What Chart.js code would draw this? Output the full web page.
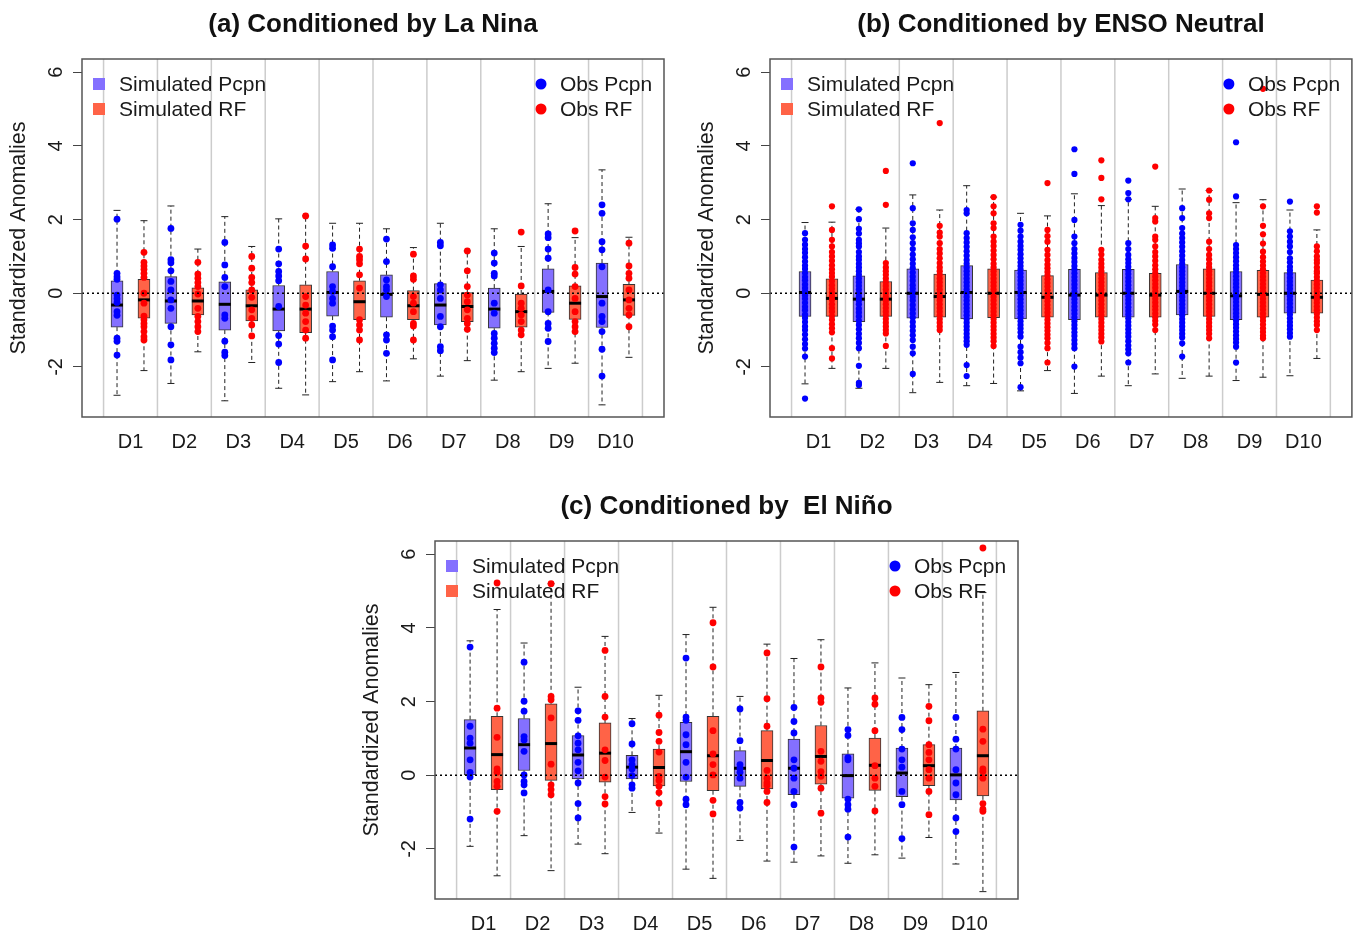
<!DOCTYPE html>
<html>
<head>
<meta charset="utf-8">
<script src="https://cdn.jsdelivr.net/npm/chart.js@4.4.1/dist/chart.umd.min.js"></script>
<style>
  html, body { margin: 0; background: #fff; overflow: hidden; }
  .panel { position: absolute; }
</style>
</head>
<body>
<div class="panel" style="left:0;top:0"><canvas id="chartA" width="680" height="470"></canvas></div>
<div class="panel" style="left:688px;top:0"><canvas id="chartB" width="667" height="470"></canvas></div>
<div class="panel" style="left:353px;top:482px"><canvas id="chartC" width="680" height="470"></canvas></div>
<script>
const FONT = "'Liberation Sans', Arial, Helvetica, sans-serif";
const deciles = ['D1', 'D2', 'D3', 'D4', 'D5', 'D6', 'D7', 'D8', 'D9', 'D10'];
const yTicks = [-2, 0, 2, 4, 6];
const BLUE_BOX = '#8470FF', RED_BOX = '#FF6347', BLUE_PT = '#0000FF', RED_PT = '#FF0000';

// box rows: [lower whisker, q1, median, q3, upper whisker]
// (a) La Nina
const pcpnBoxA = [
  [-2.77, -0.92, -0.32, 0.34, 2.25], [-2.45, -0.82, -0.21, 0.45, 2.37], [-2.92, -1.00, -0.30, 0.31, 2.08],
  [-2.58, -1.02, -0.43, 0.21, 2.02], [-2.40, -0.62, 0.02, 0.59, 1.90], [-2.38, -0.65, -0.03, 0.50, 1.75],
  [-2.25, -0.86, -0.32, 0.26, 1.90], [-2.36, -0.95, -0.43, 0.14, 1.75], [-2.04, -0.52, 0.05, 0.66, 2.43],
  [-3.03, -0.93, -0.09, 0.82, 3.35]
];
const rfBoxA = [
  [-2.10, -0.68, -0.18, 0.38, 1.97], [-1.59, -0.59, -0.21, 0.15, 1.20], [-1.88, -0.75, -0.34, 0.09, 1.27],
  [-2.76, -1.07, -0.43, 0.23, 2.10], [-2.13, -0.72, -0.23, 0.34, 1.90], [-1.78, -0.72, -0.34, 0.07, 1.24],
  [-1.83, -0.77, -0.36, 0.02, 1.15], [-2.13, -0.92, -0.50, -0.02, 1.27], [-1.90, -0.71, -0.27, 0.20, 1.51],
  [-1.74, -0.60, -0.18, 0.24, 1.52]
];
const obsPcpnA = [
  [2.01, 0.54, 0.45, 0.38, -0.05, -0.15, -0.25, -0.5, -0.6, -1.22, -1.3, -1.68],
  [1.76, 0.91, 0.83, 0.61, 0.32, 0.09, -0.18, -0.41, -0.91, -1.40, -1.81],
  [1.38, 0.77, 0.43, 0.18, -0.59, -0.68, -1.30, -1.60, -1.69],
  [1.20, 0.80, 0.59, 0.47, 0.34, -0.36, -1.15, -1.38, -1.88],
  [1.31, 1.22, 0.72, 0.18, 0.05, -0.14, -0.27, -0.89, -1.0, -1.18, -1.81],
  [1.47, 0.86, 0.36, 0.18, 0.09, -0.09, -1.13, -1.27, -1.63],
  [1.38, 1.29, 0.23, 0.09, -0.14, -0.63, -0.91, -1.45, -1.56],
  [1.09, 0.82, 0.54, 0.47, -0.27, -0.54, -1.09, -1.22, -1.36, -1.49, -1.61],
  [1.61, 1.51, 1.20, 0.95, 0.09, -0.50, -0.82, -0.95, -1.31],
  [2.40, 2.17, 1.40, 1.18, 0.72, -0.27, -0.63, -0.77, -1.04, -1.52, -2.25]
];
const obsRfA = [
  [1.11, 0.84, 0.74, 0.65, 0.54, 0.43, 0.0, -0.27, -0.62, -0.72, -0.82, -0.91, -1.04, -1.18, -1.27],
  [0.84, 0.52, 0.41, 0.29, 0.18, -0.02, -0.41, -0.63, -0.77, -0.91, -1.04],
  [1.0, 0.68, 0.43, 0.29, 0.09, -0.11, -0.45, -0.68, -0.86, -1.16],
  [2.10, 1.28, 0.93, -0.09, -0.32, -0.54, -0.77, -1.0, -1.22],
  [1.20, 1.0, 0.91, 0.80, 0.50, 0.14, -0.72, -0.86, -1.0, -1.27],
  [1.06, 0.47, 0.38, -0.09, -0.27, -0.50, -0.82, -0.89, -1.27],
  [1.15, 0.61, 0.18, -0.05, -0.23, -0.45, -0.68, -0.82, -0.98],
  [1.66, 0.20, -0.27, -0.41, -0.59, -0.77, -1.0, -1.13],
  [1.69, 0.70, 0.52, 0.18, -0.14, -0.50, -0.77, -0.91, -1.04],
  [1.36, 0.74, 0.54, 0.41, 0.09, -0.18, -0.41, -0.59, -0.91]
];

// (b) ENSO Neutral
const pcpnBoxB = [
  [-2.46, -0.63, 0.02, 0.59, 1.92], [-2.58, -0.77, -0.16, 0.47, 2.28], [-2.70, -0.68, 0.00, 0.66, 2.67],
  [-2.51, -0.70, 0.02, 0.75, 2.92], [-2.65, -0.70, 0.02, 0.63, 2.17], [-2.72, -0.72, -0.05, 0.65, 2.70],
  [-2.51, -0.65, 0.00, 0.65, 2.55], [-2.31, -0.59, 0.05, 0.78, 2.83], [-2.37, -0.72, -0.07, 0.59, 2.46],
  [-2.24, -0.54, 0.00, 0.56, 2.26]
];
const rfBoxB = [
  [-2.04, -0.63, -0.14, 0.39, 1.93], [-2.04, -0.63, -0.16, 0.32, 1.77], [-2.42, -0.65, -0.09, 0.52, 2.26],
  [-2.45, -0.66, 0.00, 0.66, 2.61], [-2.10, -0.65, -0.11, 0.48, 2.10], [-2.25, -0.65, -0.05, 0.56, 2.38],
  [-2.19, -0.65, -0.05, 0.54, 2.36], [-2.25, -0.63, 0.00, 0.66, 2.79], [-2.28, -0.65, -0.03, 0.62, 2.54],
  [-1.77, -0.54, -0.11, 0.36, 1.72]
];
const obsPcpnB = [
  [1.63, 1.45, 1.32, 1.2, 1.1, 0.98, 0.86, 0.75, 0.66, 0.55, 0.44, 0.35, 0.24, 0.14, 0.05, -0.06, -0.15, -0.26, -0.37, -0.46, -0.58, -0.67, -0.78, -0.9, -1.0, -1.12, -1.25, -1.38, -1.5, -1.72, -2.86],
  [2.28, 2.01, 1.75, 1.62, 1.45, 1.36, 1.27, 1.12, 1.0, 0.91, 0.8, 0.7, 0.6, 0.5, 0.4, 0.3, 0.2, 0.1, 0.0, -0.1, -0.2, -0.3, -0.42, -0.52, -0.63, -0.75, -0.86, -0.98, -1.1, -1.22, -1.35, -1.49, -1.97, -2.43, -2.49],
  [3.53, 2.31, 1.90, 1.72, 1.52, 1.36, 1.2, 1.05, 0.92, 0.8, 0.68, 0.56, 0.45, 0.34, 0.22, 0.12, 0.02, -0.1, -0.2, -0.32, -0.44, -0.55, -0.66, -0.78, -0.9, -1.02, -1.14, -1.27, -1.45, -1.63, -2.19],
  [2.26, 2.17, 1.63, 1.5, 1.38, 1.26, 1.14, 1.02, 0.9, 0.8, 0.7, 0.6, 0.5, 0.4, 0.3, 0.2, 0.1, 0.0, -0.1, -0.2, -0.3, -0.4, -0.5, -0.6, -0.7, -0.8, -0.9, -1.0, -1.1, -1.2, -1.3, -1.40, -1.95, -2.25],
  [1.86, 1.7, 1.54, 1.4, 1.28, 1.18, 1.06, 0.95, 0.84, 0.74, 0.64, 0.54, 0.44, 0.34, 0.24, 0.14, 0.04, -0.06, -0.16, -0.26, -0.36, -0.46, -0.56, -0.66, -0.76, -0.86, -0.96, -1.06, -1.18, -1.45, -1.6, -1.75, -1.90, -2.55],
  [3.91, 3.24, 1.99, 1.54, 1.36, 1.2, 1.08, 0.96, 0.85, 0.74, 0.64, 0.54, 0.44, 0.34, 0.24, 0.14, 0.04, -0.06, -0.16, -0.26, -0.36, -0.46, -0.56, -0.66, -0.76, -0.86, -0.96, -1.06, -1.16, -1.27, -1.38, -1.49, -1.99],
  [3.06, 2.72, 2.55, 1.36, 1.2, 1.04, 0.92, 0.82, 0.72, 0.62, 0.52, 0.42, 0.32, 0.22, 0.12, 0.02, -0.08, -0.18, -0.28, -0.38, -0.48, -0.58, -0.68, -0.78, -0.88, -0.98, -1.08, -1.18, -1.3, -1.42, -1.52, -1.63, -1.88],
  [2.31, 2.04, 1.77, 1.62, 1.5, 1.38, 1.26, 1.14, 1.02, 0.9, 0.8, 0.7, 0.6, 0.5, 0.4, 0.3, 0.2, 0.1, 0.0, -0.1, -0.2, -0.3, -0.4, -0.5, -0.6, -0.7, -0.8, -0.9, -1.0, -1.1, -1.2, -1.36, -1.72],
  [4.10, 2.63, 1.31, 1.2, 1.09, 0.98, 0.87, 0.76, 0.66, 0.56, 0.46, 0.36, 0.26, 0.16, 0.06, -0.04, -0.14, -0.24, -0.34, -0.44, -0.54, -0.64, -0.74, -0.84, -0.94, -1.04, -1.14, -1.24, -1.34, -1.45, -1.88],
  [2.49, 1.68, 1.54, 1.4, 1.27, 1.12, 0.95, 0.84, 0.72, 0.62, 0.52, 0.42, 0.32, 0.22, 0.12, 0.02, -0.08, -0.18, -0.28, -0.38, -0.48, -0.58, -0.68, -0.78, -0.88, -0.98, -1.08, -1.18]
];
const obsRfB = [
  [2.36, 1.72, 1.45, 1.27, 1.12, 1.0, 0.88, 0.76, 0.65, 0.55, 0.45, 0.33, 0.22, 0.12, 0.02, -0.08, -0.18, -0.3, -0.4, -0.5, -0.62, -0.72, -0.84, -0.95, -1.06, -1.49, -1.77],
  [3.32, 2.40, 0.82, 0.7, 0.6, 0.5, 0.4, 0.3, 0.2, 0.1, 0.0, -0.1, -0.2, -0.3, -0.4, -0.5, -0.6, -0.7, -0.8, -0.9, -1.0, -1.09, -1.43],
  [4.62, 1.83, 1.65, 1.54, 1.36, 1.2, 1.08, 0.95, 0.82, 0.7, 0.6, 0.5, 0.4, 0.3, 0.2, 0.1, 0.0, -0.1, -0.2, -0.3, -0.4, -0.5, -0.6, -0.7, -0.8, -0.9, -1.0],
  [2.61, 2.36, 2.17, 1.9, 1.77, 1.54, 1.4, 1.28, 1.16, 1.04, 0.92, 0.8, 0.7, 0.6, 0.5, 0.4, 0.3, 0.2, 0.1, 0.0, -0.1, -0.2, -0.3, -0.4, -0.5, -0.6, -0.7, -0.8, -0.9, -1.0, -1.1, -1.2, -1.3, -1.43],
  [2.99, 1.72, 1.55, 1.40, 1.18, 1.04, 0.9, 0.78, 0.68, 0.58, 0.48, 0.38, 0.28, 0.18, 0.08, -0.02, -0.12, -0.22, -0.32, -0.42, -0.52, -0.62, -0.72, -0.82, -0.92, -1.02, -1.12, -1.22, -1.35, -1.49, -1.88],
  [3.61, 3.13, 2.55, 1.18, 1.05, 0.91, 0.8, 0.7, 0.6, 0.5, 0.4, 0.3, 0.2, 0.1, 0.0, -0.1, -0.2, -0.3, -0.4, -0.5, -0.6, -0.7, -0.8, -0.9, -1.0, -1.1, -1.2, -1.31],
  [3.44, 2.04, 1.95, 1.54, 1.45, 1.27, 1.12, 1.0, 0.88, 0.76, 0.65, 0.55, 0.45, 0.35, 0.25, 0.15, 0.05, -0.05, -0.15, -0.25, -0.35, -0.45, -0.55, -0.65, -0.75, -0.85, -1.0],
  [2.79, 2.54, 2.17, 2.04, 1.40, 1.2, 1.04, 0.92, 0.8, 0.7, 0.6, 0.5, 0.4, 0.3, 0.2, 0.1, 0.0, -0.1, -0.2, -0.3, -0.4, -0.5, -0.6, -0.7, -0.8, -0.9, -1.0, -1.1, -1.22],
  [5.55, 2.36, 1.83, 1.6, 1.35, 1.13, 0.98, 0.86, 0.75, 0.65, 0.55, 0.45, 0.35, 0.25, 0.15, 0.05, -0.05, -0.15, -0.25, -0.35, -0.45, -0.55, -0.65, -0.75, -0.85, -0.95, -1.05, -1.15, -1.22],
  [2.36, 2.19, 1.27, 1.14, 1.0, 0.9, 0.82, 0.7, 0.6, 0.54, 0.44, 0.34, 0.24, 0.14, 0.04, -0.06, -0.16, -0.26, -0.36, -0.46, -0.56, -0.66, -0.76, -0.86, -1.0]
];

// (c) El Nino
const pcpnBoxC = [
  [-1.93, 0.01, 0.74, 1.51, 3.65], [-1.64, 0.13, 0.83, 1.54, 3.59], [-1.87, -0.10, 0.55, 1.08, 2.39],
  [-1.01, -0.10, 0.22, 0.54, 1.54], [-2.55, -0.17, 0.64, 1.44, 3.82], [-1.77, -0.30, 0.19, 0.67, 2.14],
  [-2.36, -0.53, 0.19, 0.98, 3.17], [-2.39, -0.62, -0.01, 0.58, 2.37], [-2.25, -0.58, 0.06, 0.74, 2.64],
  [-2.41, -0.67, 0.01, 0.74, 2.79]
];
const rfBoxC = [
  [-2.73, -0.39, 0.56, 1.60, 4.50], [-2.59, -0.14, 0.86, 1.94, 5.20], [-2.13, -0.19, 0.60, 1.42, 3.77],
  [-1.57, -0.29, 0.21, 0.71, 2.17], [-2.80, -0.42, 0.53, 1.60, 4.56], [-2.33, -0.37, 0.40, 1.21, 3.56],
  [-2.19, -0.24, 0.51, 1.35, 3.68], [-2.16, -0.41, 0.27, 1.01, 3.05], [-1.69, -0.28, 0.26, 0.83, 2.46],
  [-3.16, -0.56, 0.53, 1.75, 4.96]
];
const obsPcpnC = [
  [3.48, 1.33, 1.01, 0.87, 0.42, 0.08, -0.05, -1.19],
  [3.07, 2.01, 1.74, 1.05, 0.96, 0.65, 0.01, -0.17, -0.26, -0.48],
  [1.75, 1.49, 1.07, 0.87, 0.69, 0.35, 0.12, -0.21, -0.77, -1.16],
  [1.40, 0.85, 0.42, 0.29, 0.17, -0.01, -0.26, -0.35],
  [3.18, 1.58, 1.49, 1.10, 0.83, 0.35, -0.05, -0.65, -0.80],
  [1.80, 0.94, 0.29, 0.19, 0.08, -0.08, -0.74, -0.89],
  [1.84, 1.46, 1.15, 0.42, 0.19, -0.08, -0.44, -0.80, -1.95],
  [1.24, 1.08, 0.48, 0.42, -0.65, -0.80, -0.92, -1.68],
  [1.57, 1.24, 0.71, 0.42, 0.22, -0.44, -0.80, -1.72],
  [1.57, 0.98, 0.71, 0.15, -0.21, -0.53, -1.16, -1.53]
];
const obsRfC = [
  [5.22, 1.82, 1.03, 0.17, 0.08, -0.17, -0.30, -0.98],
  [5.20, 2.14, 2.05, 1.56, 0.30, -0.26, -0.39, -0.53],
  [3.39, 2.14, 1.58, 0.69, 0.40, -0.05, -0.58, -0.78],
  [1.63, 1.16, 0.92, 0.63, -0.03, -0.14, -0.30, -0.47, -0.76],
  [4.14, 2.94, 1.21, 0.58, 0.29, 0.01, -0.68, -1.05],
  [3.32, 2.08, 1.33, 0.13, -0.08, -0.21, -0.28, -0.44, -0.74],
  [2.94, 2.10, 1.98, 0.65, 0.38, 0.10, -0.03, -0.35, -1.03],
  [2.10, 1.93, 1.21, 0.26, -0.08, -0.30, -0.97],
  [1.87, 1.48, 0.83, 0.62, 0.42, 0.15, -0.08, -0.44, -1.07],
  [6.17, 1.25, 0.92, 0.17, 0.10, -0.08, -0.77, -0.92, -0.98]
];

// whiskers, medians, separators, zero line, frame, legend and title
const boxExtras = {
  id: 'boxExtras',
  beforeDatasetsDraw(chart) {
    const {ctx, chartArea: a, scales: {x, y}} = chart;
    ctx.save();
    ctx.beginPath();
    ctx.rect(a.left, a.top, a.width, a.height);
    ctx.clip();
    ctx.strokeStyle = '#cccccc';
    ctx.lineWidth = 1.5;
    for (let d = 0; d <= deciles.length; d++) {
      const px = x.getPixelForValue(2 * d + 0.5);
      ctx.beginPath();
      ctx.moveTo(px, a.top);
      ctx.lineTo(px, a.bottom);
      ctx.stroke();
    }
    ctx.strokeStyle = '#222';
    ctx.lineWidth = 1;
    chart.data.datasets.forEach(ds => {
      if (!ds.stats) return;
      ds.data.forEach((pt, j) => {
        const s = ds.stats[j];
        const px = x.getPixelForValue(pt.x);
        ctx.setLineDash([4, 3]);
        ctx.beginPath();
        ctx.moveTo(px, y.getPixelForValue(s[3]));
        ctx.lineTo(px, y.getPixelForValue(s[4]));
        ctx.moveTo(px, y.getPixelForValue(s[1]));
        ctx.lineTo(px, y.getPixelForValue(s[0]));
        ctx.stroke();
        ctx.setLineDash([]);
        ctx.beginPath();
        [s[0], s[4]].forEach(v => {
          const py = y.getPixelForValue(v);
          ctx.moveTo(px - 3.5, py);
          ctx.lineTo(px + 3.5, py);
        });
        ctx.stroke();
      });
    });
    ctx.restore();
  },
  afterDatasetDraw(chart, args) {
    const ds = chart.data.datasets[args.index];
    if (!ds.stats) return;
    const {ctx, scales: {y}} = chart;
    ctx.save();
    ctx.strokeStyle = '#000';
    ctx.lineWidth = 3;
    args.meta.data.forEach((bar, j) => {
      const py = y.getPixelForValue(ds.stats[j][2]);
      ctx.beginPath();
      ctx.moveTo(bar.x - bar.width / 2, py);
      ctx.lineTo(bar.x + bar.width / 2, py);
      ctx.stroke();
    });
    ctx.restore();
  },
  afterDatasetsDraw(chart) {
    const {ctx, chartArea: a, scales: {y}} = chart;
    const py = y.getPixelForValue(0);
    ctx.save();
    ctx.strokeStyle = '#000';
    ctx.lineWidth = 1.5;
    ctx.setLineDash([2, 3]);
    ctx.beginPath();
    ctx.moveTo(a.left, py);
    ctx.lineTo(a.right, py);
    ctx.stroke();
    ctx.restore();
  },
  afterDraw(chart, args, opts) {
    const {ctx, chartArea: a} = chart;
    ctx.save();
    ctx.strokeStyle = '#555';
    ctx.lineWidth = 1.5;
    ctx.strokeRect(a.left, a.top, a.width, a.height);

    ctx.fillStyle = '#111';
    ctx.font = 'bold 26px ' + FONT;
    ctx.textAlign = 'center';
    ctx.textBaseline = 'middle';
    ctx.fillText(opts.title, (a.left + a.right) / 2, 25);

    ctx.font = '21px ' + FONT;
    ctx.textAlign = 'left';
    let li = 0, ri = 0;
    chart.data.datasets.forEach(ds => {
      if (ds.stats) {
        const cy = a.top + 25 + 25 * li++;
        ctx.fillStyle = ds.backgroundColor;
        ctx.fillRect(a.left + 11, cy - 6, 12, 12);
        ctx.fillStyle = '#1a1a1a';
        ctx.fillText(ds.label, a.left + 37, cy + 1);
      } else {
        const cy = a.top + 25 + 25 * ri++;
        ctx.fillStyle = ds.backgroundColor;
        ctx.beginPath();
        ctx.arc(a.right - 123, cy, 5.5, 0, Math.PI * 2);
        ctx.fill();
        ctx.fillStyle = '#1a1a1a';
        ctx.fillText(ds.label, a.right - 104, cy + 1);
      }
    });
    ctx.restore();
  }
};

function makePanel(id, title, pcpnBox, rfBox, obsPcpn, obsRf, pad, radius) {
  const boxSet = (label, rows, k, color) => ({
    type: 'bar', label, stats: rows,
    data: rows.map((s, d) => ({x: 2 * d + 1 + k, y: [s[1], s[3]]})),
    backgroundColor: color, borderColor: '#333', borderWidth: 1, borderSkipped: false,
    barThickness: 12, grouped: false, order: 1
  });
  const pointSet = (label, lists, k, color) => ({
    type: 'scatter', label,
    data: lists.flatMap((vals, d) => vals.map(v => ({x: 2 * d + 1 + k, y: v}))),
    backgroundColor: color, borderColor: color, borderWidth: 0,
    pointRadius: radius, pointHoverRadius: radius, order: 0
  });
  new Chart(document.getElementById(id), {
    type: 'bar',
    data: {
      datasets: [
        boxSet('Simulated Pcpn', pcpnBox, 0, BLUE_BOX),
        boxSet('Simulated RF', rfBox, 1, RED_BOX),
        pointSet('Obs Pcpn', obsPcpn, 0, BLUE_PT),
        pointSet('Obs RF', obsRf, 1, RED_PT)
      ]
    },
    options: {
      responsive: false,
      animation: false,
      layout: { padding: {left: 0, top: 59, right: pad, bottom: 13} },
      scales: {
        x: {
          type: 'linear', min: -0.3, max: 21.3, offset: false,
          afterBuildTicks: s => { s.ticks = deciles.map((_, i) => ({value: 2 * i + 1.5})); },
          afterFit: s => { s.height = 40; },
          ticks: {
            callback: (v, i) => deciles[i], autoSkip: false, maxRotation: 0, padding: 13,
            font: {family: FONT, size: 20}, color: '#1a1a1a'
          },
          grid: { display: false, drawTicks: false },
          border: { display: false }
        },
        y: {
          type: 'linear', min: -3.36, max: 6.36,
          afterBuildTicks: s => { s.ticks = yTicks.map(v => ({value: v})); },
          afterFit: s => { s.width = 82; },
          ticks: {
            minRotation: 90, maxRotation: 90, crossAlign: 'center', padding: 8,
            font: {family: FONT, size: 20}, color: '#1a1a1a'
          },
          grid: { drawOnChartArea: false, drawTicks: true, tickLength: 9, color: '#444' },
          border: { display: false },
          title: {
            display: true, text: 'Standardized Anomalies', color: '#1a1a1a',
            font: {family: FONT, size: 21.5}, padding: {top: 6, bottom: 0}
          }
        }
      },
      plugins: {
        legend: { display: false },
        tooltip: { enabled: false },
        boxExtras: { title }
      }
    },
    plugins: [boxExtras]
  });
}

makePanel('chartA', '(a) Conditioned by La Nina', pcpnBoxA, rfBoxA, obsPcpnA, obsRfA, 16, 3.4);
makePanel('chartB', '(b) Conditioned by ENSO Neutral', pcpnBoxB, rfBoxB, obsPcpnB, obsRfB, 2, 3.1);
makePanel('chartC', '(c) Conditioned by  El Niño', pcpnBoxC, rfBoxC, obsPcpnC, obsRfC, 15, 3.4);
</script>
</body>
</html>
